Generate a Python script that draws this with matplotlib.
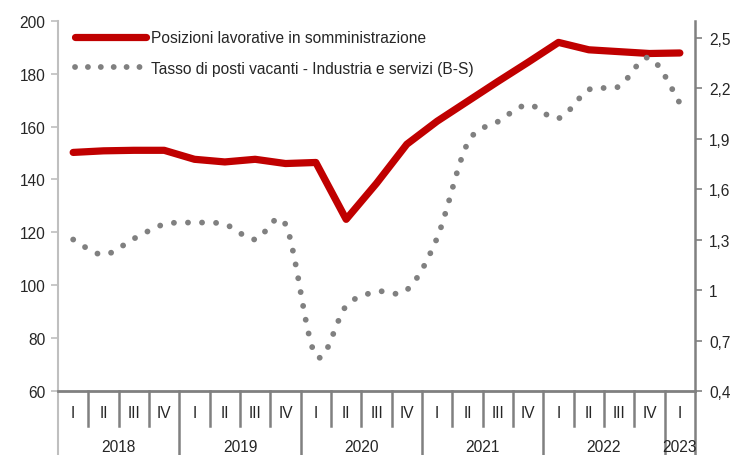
import matplotlib
matplotlib.use("Agg")
import matplotlib.pyplot as plt
import numpy as np
from matplotlib.path import Path
from matplotlib.patches import PathPatch
from matplotlib.lines import Line2D
import matplotlib.transforms as mtransforms
from matplotlib import font_manager

# ---------------- data ----------------
years = ["2018", "2019", "2020", "2021", "2022", "2023"]
quarters = ["I", "II", "III", "IV"] * 5 + ["I"]
posizioni = [150.2, 150.8, 151.0, 151.0, 147.6, 146.6, 147.6, 146.0, 146.4, 124.9,
             138.5, 153.3, 162.0, 169.5, 177.0, 184.3, 191.8, 189.0, 188.3, 187.6, 187.8]
vacanti = [1.30, 1.21, 1.305, 1.39, 1.40, 1.39, 1.30, 1.39, 0.61, 0.905,
           0.99, 1.00, 1.31, 1.87, 2.00, 2.10, 2.02, 2.19, 2.21, 2.38, 2.11]
left_ticks = [60, 80, 100, 120, 140, 160, 180, 200]
right_ticks = [0.4, 0.7, 1.0, 1.3, 1.6, 1.9, 2.2, 2.5]
right_labels = ["0,4", "0,7", "1", "1,3", "1,6", "1,9", "2,2", "2,5"]
label_red = "Posizioni lavorative in somministrazione"
label_gray = "Tasso di posti vacanti - Industria e servizi (B-S)"

# ---------------- style ----------------
avail = {f.name for f in font_manager.fontManager.ttflist}
fams = [f for f in ["Liberation Sans Narrow", "Liberation Sans", "DejaVu Sans"] if f in avail]
narrow = "Liberation Sans Narrow" in avail
plt.rcParams["font.family"] = fams
RED = "#C00000"
GRAY = "#808080"
TXT = "#262626"
FS = 12.5 if narrow else 11.2

W, H = 748, 456
fig = plt.figure(figsize=(W / 100, H / 100), dpi=100)
x0, x1, ytop, ybot = 58, 695, 21.7, 392
ax = fig.add_axes([x0 / W, 1 - ybot / H, (x1 - x0) / W, (ybot - ytop) / H])
ax2 = ax.twinx()

n = len(posizioni)
x = np.arange(n)

ax.set_xlim(-0.5, n - 0.5)
ax.set_ylim(60, 200)
ax2.set_ylim(0.4, 2.6)

# red line
ax.plot(x, posizioni, color=RED, lw=5.2, solid_capstyle="round", solid_joinstyle="round", zorder=3)

# smoothed dotted line (Catmull-Rom -> Bezier) on right axis
pts = np.column_stack([x, vacanti]).astype(float)
verts = [pts[0]]
codes = [Path.MOVETO]
for i in range(n - 1):
    p0 = pts[i - 1] if i > 0 else pts[i]
    p1 = pts[i]
    p2 = pts[i + 1]
    p3 = pts[i + 2] if i + 2 < n else pts[i + 1]
    c1 = p1 + (p2 - p0) / 6.0
    c2 = p2 - (p3 - p1) / 6.0
    verts += [c1, c2, p2]
    codes += [Path.CURVE4] * 3
path = Path(np.array(verts), codes)
patch = PathPatch(path, fill=False, edgecolor=GRAY, lw=4.2,
                  linestyle=(0, (0.01, 2.4)), capstyle="round", zorder=2)
ax2.add_patch(patch)

# axes styling
ax.set_yticks(left_ticks)
ax.set_yticklabels([str(v) for v in left_ticks])
ax2.set_yticks(right_ticks)
ax2.set_yticklabels(right_labels)
ax.tick_params(axis="y", direction="out", length=5, width=1.2, color="#BFBFBF",
               labelsize=FS, labelcolor=TXT, pad=4)
ax2.tick_params(axis="y", direction="out", length=5, width=1.2, color=GRAY,
                labelsize=FS, labelcolor=TXT, pad=5)
ax.set_xticks([])
ax2.set_xticks([])
for a in (ax, ax2):
    a.spines["top"].set_visible(False)
ax.spines["right"].set_visible(False)
ax2.spines["left"].set_visible(False)
ax2.spines["bottom"].set_visible(False)
ax.spines["left"].set_color("#BFBFBF")
ax.spines["left"].set_linewidth(1.5)
ax2.spines["right"].set_color(GRAY)
ax2.spines["right"].set_linewidth(1.8)
ax.spines["bottom"].set_color(GRAY)
ax.spines["bottom"].set_linewidth(2)

# category axis (two-level)
trans = mtransforms.blended_transform_factory(ax.transData, ax.transAxes)
axh = ybot - ytop
short = 35 / axh
long_ = 66 / axh
for i in range(n + 1):
    xb = i - 0.5
    is_year = (i % 4 == 0) or i == n
    ln = long_ if is_year else short
    col = "#BFBFBF" if i == 0 else GRAY
    ax.add_line(Line2D([xb, xb], [0, -ln], transform=trans, color=col,
                       lw=1.5 if i == 0 else 1.8, clip_on=False))
for i, q in enumerate(quarters):
    ax.text(i, -22 / axh, q, transform=trans, ha="center", va="center",
            fontsize=FS, color=TXT)
for k, yr in enumerate(years):
    start = 4 * k
    end = min(4 * k + 3, n - 1)
    ax.text((start + end) / 2, -56 / axh, yr, transform=trans, ha="center", va="center",
            fontsize=FS, color=TXT)

# legend
h_red = Line2D([], [], color=RED, lw=5.2, solid_capstyle="round")
h_gray = Line2D([], [], color=GRAY, lw=4.2, linestyle=(0, (0.01, 2.2)), dash_capstyle="round")
leg = ax2.legend([h_red, h_gray], [label_red, label_gray], loc="upper left",
                 bbox_to_anchor=(0.012, 1.0), frameon=False, fontsize=FS,
                 handlelength=71 / (FS * 100 / 72), handletextpad=0.3, labelspacing=1.0,
                 borderaxespad=0.2)
for t in leg.get_texts():
    t.set_color(TXT)

fig.savefig("out.png", dpi=100)
